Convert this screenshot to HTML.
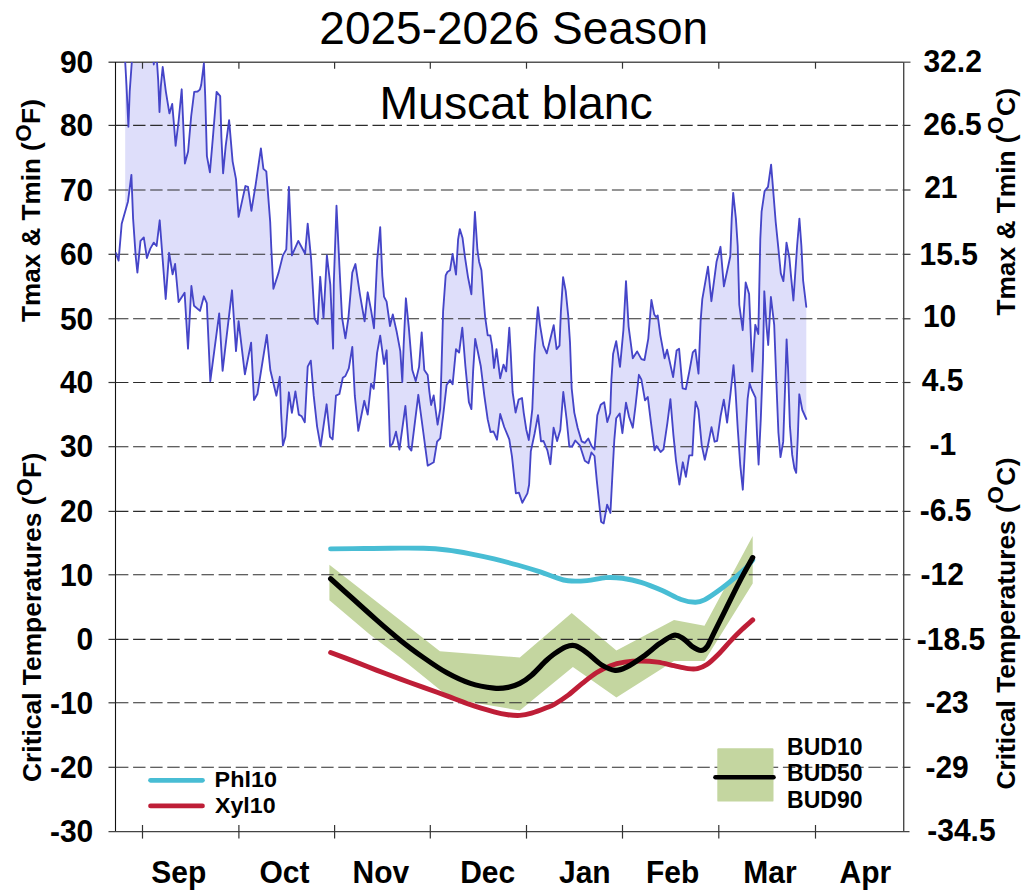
<!DOCTYPE html>
<html><head><meta charset="utf-8"><title>2025-2026 Season - Muscat blanc</title>
<style>
html,body{margin:0;padding:0;background:#fff;}
body{width:1024px;height:893px;position:relative;overflow:hidden;font-family:"Liberation Sans",sans-serif;}
</style></head><body>
<svg width="1024" height="893" viewBox="0 0 1024 893" style="position:absolute;left:0;top:0">
<defs><clipPath id="cp"><rect x="115.5" y="62.0" width="788.2" height="769.0"/></clipPath></defs>
<g clip-path="url(#cp)">
<polygon points="125.2,55.0 125.2,62.0 126.5,85.5 128.4,126.7 129.7,91.8 131.8,62.0 131.8,55.0 153.0,55.0 153.8,64.5 154.6,55.0 156.6,55.0 157.0,62.0 158.2,80.4 159.5,112.0 160.8,86.7 162.7,67.0 165.9,91.8 169.4,113.4 172.2,103.9 174.1,126.0 175.6,145.8 178.6,121.0 181.7,89.3 183.0,118.5 184.9,163.5 188.1,151.5 191.2,116.0 194.2,91.9 197.6,91.5 199.9,89.6 201.2,85.0 203.9,63.3 205.2,96.0 206.9,156.1 209.9,172.4 212.9,137.3 216.6,91.9 220.2,96.1 221.4,137.3 223.1,173.3 225.7,145.8 229.1,120.1 232.6,161.3 236.0,179.1 238.6,216.9 242.0,201.4 245.4,186.0 248.0,186.9 251.4,210.9 255.7,184.3 260.9,148.4 263.4,168.9 266.3,171.4 268.6,201.4 270.2,222.0 271.3,248.0 273.4,288.8 278.6,272.6 282.9,255.4 286.3,249.4 288.9,186.9 291.9,255.4 298.3,240.9 305.1,253.7 307.7,223.7 311.1,258.8 314.6,318.8 317.7,324.0 320.2,276.8 323.5,318.0 326.9,255.4 330.3,284.6 333.1,348.6 333.8,282.8 336.5,205.7 339.4,265.7 342.0,317.1 345.4,338.3 348.4,318.0 352.3,272.6 355.4,264.0 360.0,294.8 364.6,321.4 367.7,292.3 371.1,310.3 374.0,328.3 377.1,260.6 380.2,227.1 382.3,276.0 384.0,296.6 386.6,301.7 390.0,326.0 392.8,314.4 396.8,332.3 400.3,351.1 402.3,382.0 403.7,344.3 405.9,298.3 408.8,327.3 412.3,370.0 415.7,381.1 419.1,366.6 421.7,332.4 424.3,370.0 427.7,375.0 429.4,392.0 431.1,405.0 433.7,395.5 437.6,424.7 440.2,409.0 441.4,371.4 443.1,311.4 445.7,275.4 447.4,272.0 450.0,270.3 452.6,254.0 456.0,274.6 458.1,239.4 459.8,229.1 462.5,237.7 464.9,256.6 468.0,277.1 471.4,294.3 473.1,251.4 474.9,212.0 477.4,249.7 479.1,261.7 481.4,270.3 483.4,296.0 485.1,316.6 487.7,335.4 490.3,335.4 492.0,345.7 494.0,368.0 496.5,349.1 500.2,378.3 503.5,364.6 506.2,371.4 509.3,327.7 510.8,354.3 512.6,392.0 515.6,412.6 518.6,399.7 522.0,398.0 523.7,412.6 526.3,429.7 528.8,440.0 532.3,409.1 534.5,354.3 536.6,323.0 537.9,307.1 540.0,325.1 543.4,345.7 546.8,353.4 551.1,335.8 553.7,325.1 556.6,349.1 559.5,345.7 560.9,311.4 563.1,277.1 565.7,290.8 568.3,316.6 570.0,342.3 571.7,388.6 574.3,412.6 577.7,428.0 581.7,441.4 584.8,442.9 588.3,438.5 591.6,446.2 594.5,449.5 597.3,415.4 600.7,404.8 604.2,402.3 607.3,422.0 610.2,413.0 611.4,379.7 613.1,354.0 616.2,341.1 620.0,366.8 623.4,330.0 626.0,281.1 628.6,326.6 632.8,358.3 637.1,351.4 641.4,359.1 644.5,360.0 648.3,338.6 651.4,300.0 654.3,314.6 656.0,317.1 657.7,315.4 660.3,335.1 664.6,358.3 667.1,349.7 673.1,377.1 676.6,350.6 679.1,348.8 682.6,388.3 685.8,389.2 689.4,371.1 692.8,352.3 695.4,349.7 698.5,373.7 700.6,321.4 702.3,299.1 708.0,266.6 711.4,301.2 716.6,261.4 720.5,246.8 723.9,286.3 730.3,256.3 731.7,218.6 733.2,192.9 735.9,218.6 737.7,246.0 739.3,305.0 742.7,330.2 745.7,282.4 749.1,294.0 752.3,371.5 755.3,324.8 758.3,334.0 760.3,239.1 761.6,211.7 764.6,191.1 768.0,186.9 771.1,164.6 773.1,189.4 775.7,222.0 778.3,247.7 780.8,273.4 783.4,281.1 785.1,261.4 786.5,242.6 789.4,258.0 791.1,276.8 793.4,300.5 797.1,246.0 799.4,218.6 801.4,246.0 803.1,280.3 806.3,306.9 806.3,419.0 802.3,410.0 799.3,394.3 797.8,437.0 796.2,472.8 794.4,468.3 792.2,454.9 789.9,425.7 788.1,369.7 786.6,339.4 785.3,381.0 783.2,441.9 780.5,457.1 778.4,432.5 776.3,380.5 774.2,324.8 770.9,297.0 768.2,345.0 766.4,324.8 764.3,291.3 763.0,358.5 760.8,418.6 758.6,464.5 757.0,434.0 755.5,397.7 751.7,389.5 749.6,383.5 747.6,399.0 745.3,442.0 742.8,489.7 740.3,465.7 737.7,428.0 735.4,389.0 733.5,365.1 730.5,393.5 727.1,422.7 723.8,399.6 720.6,416.0 717.1,440.8 714.6,441.7 711.5,427.1 707.7,446.8 704.8,459.7 701.7,445.1 698.4,409.8 695.6,401.7 694.0,422.8 692.3,455.4 689.2,455.4 685.9,476.8 682.8,462.3 679.4,484.6 676.0,460.6 673.4,434.9 670.4,399.1 667.4,422.8 663.5,449.4 660.6,452.0 656.6,446.0 654.6,450.3 651.0,422.9 647.8,397.0 645.0,400.4 641.4,379.7 638.9,374.8 635.5,406.0 632.8,427.7 629.1,417.0 626.0,402.7 622.4,433.2 619.7,413.5 616.2,418.3 614.3,440.0 612.4,475.0 610.4,513.0 607.1,504.6 603.7,523.4 601.1,521.7 596.8,480.6 594.5,456.0 591.4,452.5 588.5,463.3 584.8,460.8 580.0,445.7 575.3,440.5 572.2,446.5 569.3,446.5 566.7,420.0 563.3,392.0 560.3,430.0 557.1,441.0 553.6,427.7 550.4,464.2 547.4,450.4 543.5,441.0 541.0,441.4 538.0,415.2 534.5,434.0 530.8,451.4 529.1,484.8 527.4,493.4 522.3,502.8 518.9,492.6 515.9,493.4 512.0,456.6 509.3,439.3 504.2,427.0 500.2,414.0 497.0,439.7 493.5,431.5 490.5,432.0 487.7,419.4 484.3,395.4 480.8,366.3 475.2,338.9 473.1,371.4 471.4,409.1 468.9,402.3 465.4,366.3 462.3,327.7 459.1,352.6 456.0,349.1 452.6,384.3 450.0,380.0 446.6,385.1 443.1,416.0 440.2,438.3 437.1,441.7 433.7,462.3 427.7,465.7 423.4,433.0 418.3,394.8 411.4,450.6 408.8,447.1 405.4,406.0 399.4,449.7 396.0,431.7 392.6,443.7 390.0,446.3 388.3,392.3 386.6,350.3 384.0,364.0 380.2,335.7 377.1,352.9 373.7,388.8 371.1,383.7 367.7,414.6 364.3,400.8 358.3,430.8 354.8,395.7 352.3,346.9 348.8,368.3 345.4,376.0 342.8,377.7 339.4,394.0 336.0,395.7 332.6,439.4 330.0,436.8 326.6,404.3 320.6,446.3 317.1,426.6 313.7,395.7 310.8,360.6 307.7,366.6 304.8,422.3 301.7,416.3 298.8,414.6 295.4,391.4 291.9,412.8 288.9,392.3 285.4,436.8 282.9,445.4 281.1,412.8 279.8,376.8 276.4,395.7 270.3,370.0 266.8,334.9 257.4,394.0 254.0,400.0 251.1,342.6 244.9,374.3 238.6,321.1 236.0,351.1 232.0,290.3 222.6,370.8 219.2,313.4 210.3,381.1 206.8,303.1 203.9,296.3 200.0,310.9 194.0,305.7 191.4,286.0 188.0,348.6 184.6,292.7 178.6,302.0 175.1,264.0 172.6,274.3 169.1,252.8 165.7,299.0 162.3,254.6 159.7,220.3 156.6,246.0 153.7,242.6 150.3,248.6 146.9,258.0 143.8,237.4 140.5,240.8 137.4,272.6 135.7,256.3 133.1,218.6 131.4,174.9 128.0,201.4 125.2,211.3" fill="#dedefa"/>
<polygon points="329.4,564.7 439.9,651.2 519.8,657.5 571.7,612.9 616.4,650.5 674.0,619.9 704.5,625.8 752.7,536.0 752.7,583.5 704.5,661.0 674.0,661.0 616.4,697.5 572.9,666.9 519.8,710.5 451.0,698.8 400.0,657.6 369.2,634.0 329.4,600.2" fill="#c4d6a0"/>
</g>
<line x1="116.0" y1="125.40" x2="903.7" y2="125.40" stroke="#2c2c2c" stroke-width="1.1" stroke-dasharray="12.4 4.7" stroke-dashoffset="0.0"/>
<line x1="116.0" y1="190.00" x2="903.7" y2="190.00" stroke="#2c2c2c" stroke-width="1.1" stroke-dasharray="12.4 4.7" stroke-dashoffset="0.0"/>
<line x1="116.0" y1="254.30" x2="903.7" y2="254.30" stroke="#2c2c2c" stroke-width="1.1" stroke-dasharray="12.4 4.7" stroke-dashoffset="0.0"/>
<line x1="116.0" y1="318.80" x2="903.7" y2="318.80" stroke="#2c2c2c" stroke-width="1.1" stroke-dasharray="12.4 4.7" stroke-dashoffset="0.0"/>
<line x1="116.0" y1="382.50" x2="903.7" y2="382.50" stroke="#2c2c2c" stroke-width="1.1" stroke-dasharray="12.4 4.7" stroke-dashoffset="0.0"/>
<line x1="116.0" y1="446.70" x2="903.7" y2="446.70" stroke="#2c2c2c" stroke-width="1.1" stroke-dasharray="12.4 4.7" stroke-dashoffset="0.0"/>
<line x1="116.0" y1="511.40" x2="903.7" y2="511.40" stroke="#2c2c2c" stroke-width="1.1" stroke-dasharray="12.4 4.7" stroke-dashoffset="0.0"/>
<line x1="116.0" y1="574.80" x2="903.7" y2="574.80" stroke="#2c2c2c" stroke-width="1.1" stroke-dasharray="12.4 4.7" stroke-dashoffset="0.0"/>
<line x1="116.0" y1="639.40" x2="903.7" y2="639.40" stroke="#2c2c2c" stroke-width="1.1" stroke-dasharray="12.4 4.7" stroke-dashoffset="0.0"/>
<line x1="116.0" y1="702.80" x2="903.7" y2="702.80" stroke="#2c2c2c" stroke-width="1.1" stroke-dasharray="12.4 4.7" stroke-dashoffset="0.0"/>
<line x1="116.0" y1="767.30" x2="903.7" y2="767.30" stroke="#2c2c2c" stroke-width="1.1" stroke-dasharray="12.4 4.7" stroke-dashoffset="0.0"/>
<line x1="108.5" y1="62.2" x2="903.7" y2="62.2" stroke="#555" stroke-width="1.4"/>
<line x1="108.5" y1="831.6" x2="909.5" y2="831.6" stroke="#444" stroke-width="1.3"/>
<line x1="115.5" y1="62.0" x2="115.5" y2="831.0" stroke="#111" stroke-width="1.1"/>
<line x1="903.7" y1="62.0" x2="903.7" y2="831.0" stroke="#4a4a4a" stroke-width="1.4"/>
<line x1="108.5" y1="125.40" x2="115.5" y2="125.40" stroke="#333" stroke-width="1.2"/>
<line x1="903.7" y1="125.40" x2="910.5" y2="125.40" stroke="#333" stroke-width="1.2"/>
<line x1="108.5" y1="190.00" x2="115.5" y2="190.00" stroke="#333" stroke-width="1.2"/>
<line x1="903.7" y1="190.00" x2="910.5" y2="190.00" stroke="#333" stroke-width="1.2"/>
<line x1="108.5" y1="254.30" x2="115.5" y2="254.30" stroke="#333" stroke-width="1.2"/>
<line x1="903.7" y1="254.30" x2="910.5" y2="254.30" stroke="#333" stroke-width="1.2"/>
<line x1="108.5" y1="318.80" x2="115.5" y2="318.80" stroke="#333" stroke-width="1.2"/>
<line x1="903.7" y1="318.80" x2="910.5" y2="318.80" stroke="#333" stroke-width="1.2"/>
<line x1="108.5" y1="382.50" x2="115.5" y2="382.50" stroke="#333" stroke-width="1.2"/>
<line x1="903.7" y1="382.50" x2="910.5" y2="382.50" stroke="#333" stroke-width="1.2"/>
<line x1="108.5" y1="446.70" x2="115.5" y2="446.70" stroke="#333" stroke-width="1.2"/>
<line x1="903.7" y1="446.70" x2="910.5" y2="446.70" stroke="#333" stroke-width="1.2"/>
<line x1="108.5" y1="511.40" x2="115.5" y2="511.40" stroke="#333" stroke-width="1.2"/>
<line x1="903.7" y1="511.40" x2="910.5" y2="511.40" stroke="#333" stroke-width="1.2"/>
<line x1="108.5" y1="574.80" x2="115.5" y2="574.80" stroke="#333" stroke-width="1.2"/>
<line x1="903.7" y1="574.80" x2="910.5" y2="574.80" stroke="#333" stroke-width="1.2"/>
<line x1="108.5" y1="639.40" x2="115.5" y2="639.40" stroke="#333" stroke-width="1.2"/>
<line x1="903.7" y1="639.40" x2="910.5" y2="639.40" stroke="#333" stroke-width="1.2"/>
<line x1="108.5" y1="702.80" x2="115.5" y2="702.80" stroke="#333" stroke-width="1.2"/>
<line x1="903.7" y1="702.80" x2="910.5" y2="702.80" stroke="#333" stroke-width="1.2"/>
<line x1="108.5" y1="767.30" x2="115.5" y2="767.30" stroke="#333" stroke-width="1.2"/>
<line x1="903.7" y1="767.30" x2="910.5" y2="767.30" stroke="#333" stroke-width="1.2"/>
<line x1="903.7" y1="62.20" x2="910.5" y2="62.20" stroke="#555" stroke-width="1.3"/>
<line x1="142.5" y1="62.0" x2="142.5" y2="68.7" stroke="#333" stroke-width="1.2"/>
<line x1="142.5" y1="825.0" x2="142.5" y2="838.6" stroke="#333" stroke-width="1.2"/>
<line x1="238.9" y1="62.0" x2="238.9" y2="68.7" stroke="#333" stroke-width="1.2"/>
<line x1="238.9" y1="825.0" x2="238.9" y2="838.6" stroke="#333" stroke-width="1.2"/>
<line x1="334.6" y1="62.0" x2="334.6" y2="68.7" stroke="#333" stroke-width="1.2"/>
<line x1="334.6" y1="825.0" x2="334.6" y2="838.6" stroke="#333" stroke-width="1.2"/>
<line x1="430.3" y1="62.0" x2="430.3" y2="68.7" stroke="#333" stroke-width="1.2"/>
<line x1="430.3" y1="825.0" x2="430.3" y2="838.6" stroke="#333" stroke-width="1.2"/>
<line x1="526.5" y1="62.0" x2="526.5" y2="68.7" stroke="#333" stroke-width="1.2"/>
<line x1="526.5" y1="825.0" x2="526.5" y2="838.6" stroke="#333" stroke-width="1.2"/>
<line x1="622.5" y1="62.0" x2="622.5" y2="68.7" stroke="#333" stroke-width="1.2"/>
<line x1="622.5" y1="825.0" x2="622.5" y2="838.6" stroke="#333" stroke-width="1.2"/>
<line x1="718.8" y1="62.0" x2="718.8" y2="68.7" stroke="#333" stroke-width="1.2"/>
<line x1="718.8" y1="825.0" x2="718.8" y2="838.6" stroke="#333" stroke-width="1.2"/>
<line x1="815.5" y1="62.0" x2="815.5" y2="68.7" stroke="#333" stroke-width="1.2"/>
<line x1="815.5" y1="825.0" x2="815.5" y2="838.6" stroke="#333" stroke-width="1.2"/>
<g clip-path="url(#cp)" fill="none" stroke-linejoin="round" stroke-linecap="round">
<polyline points="125.2,55.0 125.2,62.0 126.5,85.5 128.4,126.7 129.7,91.8 131.8,62.0 131.8,55.0 153.0,55.0 153.8,64.5 154.6,55.0 156.6,55.0 157.0,62.0 158.2,80.4 159.5,112.0 160.8,86.7 162.7,67.0 165.9,91.8 169.4,113.4 172.2,103.9 174.1,126.0 175.6,145.8 178.6,121.0 181.7,89.3 183.0,118.5 184.9,163.5 188.1,151.5 191.2,116.0 194.2,91.9 197.6,91.5 199.9,89.6 201.2,85.0 203.9,63.3 205.2,96.0 206.9,156.1 209.9,172.4 212.9,137.3 216.6,91.9 220.2,96.1 221.4,137.3 223.1,173.3 225.7,145.8 229.1,120.1 232.6,161.3 236.0,179.1 238.6,216.9 242.0,201.4 245.4,186.0 248.0,186.9 251.4,210.9 255.7,184.3 260.9,148.4 263.4,168.9 266.3,171.4 268.6,201.4 270.2,222.0 271.3,248.0 273.4,288.8 278.6,272.6 282.9,255.4 286.3,249.4 288.9,186.9 291.9,255.4 298.3,240.9 305.1,253.7 307.7,223.7 311.1,258.8 314.6,318.8 317.7,324.0 320.2,276.8 323.5,318.0 326.9,255.4 330.3,284.6 333.1,348.6 333.8,282.8 336.5,205.7 339.4,265.7 342.0,317.1 345.4,338.3 348.4,318.0 352.3,272.6 355.4,264.0 360.0,294.8 364.6,321.4 367.7,292.3 371.1,310.3 374.0,328.3 377.1,260.6 380.2,227.1 382.3,276.0 384.0,296.6 386.6,301.7 390.0,326.0 392.8,314.4 396.8,332.3 400.3,351.1 402.3,382.0 403.7,344.3 405.9,298.3 408.8,327.3 412.3,370.0 415.7,381.1 419.1,366.6 421.7,332.4 424.3,370.0 427.7,375.0 429.4,392.0 431.1,405.0 433.7,395.5 437.6,424.7 440.2,409.0 441.4,371.4 443.1,311.4 445.7,275.4 447.4,272.0 450.0,270.3 452.6,254.0 456.0,274.6 458.1,239.4 459.8,229.1 462.5,237.7 464.9,256.6 468.0,277.1 471.4,294.3 473.1,251.4 474.9,212.0 477.4,249.7 479.1,261.7 481.4,270.3 483.4,296.0 485.1,316.6 487.7,335.4 490.3,335.4 492.0,345.7 494.0,368.0 496.5,349.1 500.2,378.3 503.5,364.6 506.2,371.4 509.3,327.7 510.8,354.3 512.6,392.0 515.6,412.6 518.6,399.7 522.0,398.0 523.7,412.6 526.3,429.7 528.8,440.0 532.3,409.1 534.5,354.3 536.6,323.0 537.9,307.1 540.0,325.1 543.4,345.7 546.8,353.4 551.1,335.8 553.7,325.1 556.6,349.1 559.5,345.7 560.9,311.4 563.1,277.1 565.7,290.8 568.3,316.6 570.0,342.3 571.7,388.6 574.3,412.6 577.7,428.0 581.7,441.4 584.8,442.9 588.3,438.5 591.6,446.2 594.5,449.5 597.3,415.4 600.7,404.8 604.2,402.3 607.3,422.0 610.2,413.0 611.4,379.7 613.1,354.0 616.2,341.1 620.0,366.8 623.4,330.0 626.0,281.1 628.6,326.6 632.8,358.3 637.1,351.4 641.4,359.1 644.5,360.0 648.3,338.6 651.4,300.0 654.3,314.6 656.0,317.1 657.7,315.4 660.3,335.1 664.6,358.3 667.1,349.7 673.1,377.1 676.6,350.6 679.1,348.8 682.6,388.3 685.8,389.2 689.4,371.1 692.8,352.3 695.4,349.7 698.5,373.7 700.6,321.4 702.3,299.1 708.0,266.6 711.4,301.2 716.6,261.4 720.5,246.8 723.9,286.3 730.3,256.3 731.7,218.6 733.2,192.9 735.9,218.6 737.7,246.0 739.3,305.0 742.7,330.2 745.7,282.4 749.1,294.0 752.3,371.5 755.3,324.8 758.3,334.0 760.3,239.1 761.6,211.7 764.6,191.1 768.0,186.9 771.1,164.6 773.1,189.4 775.7,222.0 778.3,247.7 780.8,273.4 783.4,281.1 785.1,261.4 786.5,242.6 789.4,258.0 791.1,276.8 793.4,300.5 797.1,246.0 799.4,218.6 801.4,246.0 803.1,280.3 806.3,306.9" stroke="#4545c8" stroke-width="1.85"/>
<polyline points="115.7,252.8 118.6,260.6 121.7,223.7 128.0,201.4 131.4,174.9 133.1,218.6 135.7,256.3 137.4,272.6 140.5,240.8 143.8,237.4 146.9,258.0 150.3,248.6 153.7,242.6 156.6,246.0 159.7,220.3 162.3,254.6 165.7,299.0 169.1,252.8 172.6,274.3 175.1,264.0 178.6,302.0 184.6,292.7 188.0,348.6 191.4,286.0 194.0,305.7 200.0,310.9 203.9,296.3 206.8,303.1 210.3,381.1 219.2,313.4 222.6,370.8 232.0,290.3 236.0,351.1 238.6,321.1 244.9,374.3 251.1,342.6 254.0,400.0 257.4,394.0 266.8,334.9 270.3,370.0 276.4,395.7 279.8,376.8 281.1,412.8 282.9,445.4 285.4,436.8 288.9,392.3 291.9,412.8 295.4,391.4 298.8,414.6 301.7,416.3 304.8,422.3 307.7,366.6 310.8,360.6 313.7,395.7 317.1,426.6 320.6,446.3 326.6,404.3 330.0,436.8 332.6,439.4 336.0,395.7 339.4,394.0 342.8,377.7 345.4,376.0 348.8,368.3 352.3,346.9 354.8,395.7 358.3,430.8 364.3,400.8 367.7,414.6 371.1,383.7 373.7,388.8 377.1,352.9 380.2,335.7 384.0,364.0 386.6,350.3 388.3,392.3 390.0,446.3 392.6,443.7 396.0,431.7 399.4,449.7 405.4,406.0 408.8,447.1 411.4,450.6 418.3,394.8 423.4,433.0 427.7,465.7 433.7,462.3 437.1,441.7 440.2,438.3 443.1,416.0 446.6,385.1 450.0,380.0 452.6,384.3 456.0,349.1 459.1,352.6 462.3,327.7 465.4,366.3 468.9,402.3 471.4,409.1 473.1,371.4 475.2,338.9 480.8,366.3 484.3,395.4 487.7,419.4 490.5,432.0 493.5,431.5 497.0,439.7 500.2,414.0 504.2,427.0 509.3,439.3 512.0,456.6 515.9,493.4 518.9,492.6 522.3,502.8 527.4,493.4 529.1,484.8 530.8,451.4 534.5,434.0 538.0,415.2 541.0,441.4 543.5,441.0 547.4,450.4 550.4,464.2 553.6,427.7 557.1,441.0 560.3,430.0 563.3,392.0 566.7,420.0 569.3,446.5 572.2,446.5 575.3,440.5 580.0,445.7 584.8,460.8 588.5,463.3 591.4,452.5 594.5,456.0 596.8,480.6 601.1,521.7 603.7,523.4 607.1,504.6 610.4,513.0 612.4,475.0 614.3,440.0 616.2,418.3 619.7,413.5 622.4,433.2 626.0,402.7 629.1,417.0 632.8,427.7 635.5,406.0 638.9,374.8 641.4,379.7 645.0,400.4 647.8,397.0 651.0,422.9 654.6,450.3 656.6,446.0 660.6,452.0 663.5,449.4 667.4,422.8 670.4,399.1 673.4,434.9 676.0,460.6 679.4,484.6 682.8,462.3 685.9,476.8 689.2,455.4 692.3,455.4 694.0,422.8 695.6,401.7 698.4,409.8 701.7,445.1 704.8,459.7 707.7,446.8 711.5,427.1 714.6,441.7 717.1,440.8 720.6,416.0 723.8,399.6 727.1,422.7 730.5,393.5 733.5,365.1 735.4,389.0 737.7,428.0 740.3,465.7 742.8,489.7 745.3,442.0 747.6,399.0 749.6,383.5 751.7,389.5 755.5,397.7 757.0,434.0 758.6,464.5 760.8,418.6 763.0,358.5 764.3,291.3 766.4,324.8 768.2,345.0 770.9,297.0 774.2,324.8 776.3,380.5 778.4,432.5 780.5,457.1 783.2,441.9 785.3,381.0 786.6,339.4 788.1,369.7 789.9,425.7 792.2,454.9 794.4,468.3 796.2,472.8 797.8,437.0 799.3,394.3 802.3,410.0 806.3,419.0" stroke="#4545c8" stroke-width="1.85"/>
<path d="M330.6,548.9 C334.3,548.9 342.9,548.7 352.9,548.6 C362.9,548.5 378.8,548.2 390.5,548.2 C402.2,548.2 414.0,548.0 423.4,548.3 C432.8,548.6 439.1,549.1 446.9,550.0 C454.7,550.9 462.5,552.3 470.4,553.8 C478.2,555.3 486.1,557.0 494.0,558.9 C501.9,560.8 509.7,562.8 517.5,565.0 C525.3,567.2 534.9,570.2 541.0,572.2 C547.1,574.2 549.6,575.5 554.1,576.9 C558.6,578.3 562.7,580.2 568.2,580.8 C573.7,581.4 580.7,581.1 587.0,580.6 C593.3,580.1 599.9,578.0 605.8,577.6 C611.7,577.2 616.4,577.5 622.3,578.3 C628.2,579.1 634.5,580.3 641.1,582.3 C647.8,584.3 655.6,587.6 662.2,590.5 C668.9,593.4 675.5,597.5 681.0,599.5 C686.5,601.5 691.2,602.2 695.1,602.3 C699.0,602.4 700.6,601.9 704.5,599.9 C708.4,597.9 713.6,594.2 718.7,590.5 C723.8,586.8 730.4,581.5 735.1,577.6 C739.8,573.7 744.0,569.9 746.9,567.0 C749.8,564.1 751.7,561.2 752.7,560.0" stroke="#48bdd4" stroke-width="4.9"/>
<path d="M330.6,652.5 C334.3,653.9 345.3,658.0 352.9,660.9 C360.5,663.8 368.6,667.1 376.4,670.1 C384.2,673.1 392.1,676.0 399.9,678.9 C407.7,681.8 415.6,684.6 423.4,687.4 C431.2,690.2 439.1,693.0 446.9,695.9 C454.7,698.8 462.5,702.1 470.4,704.7 C478.2,707.4 487.7,710.1 494.0,711.8 C500.3,713.5 503.7,714.1 508.0,714.7 C512.3,715.3 515.9,715.6 519.8,715.4 C523.7,715.1 527.3,714.4 531.6,713.2 C535.9,712.0 542.0,709.6 545.7,708.1 C549.5,706.6 550.4,706.7 554.1,704.5 C557.9,702.3 563.5,698.6 568.2,695.1 C572.9,691.6 577.6,687.1 582.3,683.4 C587.0,679.7 591.7,675.8 596.4,672.8 C601.1,669.8 605.8,667.5 610.5,665.7 C615.2,663.9 619.5,663.0 624.6,662.2 C629.7,661.4 635.6,661.0 641.1,661.0 C646.6,661.0 652.0,661.4 657.5,662.2 C663.0,663.0 668.9,664.6 674.0,665.7 C679.1,666.8 684.2,668.1 688.1,668.6 C692.0,669.1 694.4,669.3 697.5,668.6 C700.6,667.9 703.4,667.0 706.9,664.6 C710.4,662.2 714.8,657.9 718.7,654.0 C722.6,650.1 726.5,645.2 730.4,641.1 C734.3,637.0 738.5,632.8 742.2,629.3 C745.9,625.8 751.0,621.5 752.7,619.9" stroke="#be1e37" stroke-width="4.9"/>
<path d="M330.6,578.7 C334.3,582.1 345.3,591.9 352.9,598.8 C360.5,605.7 368.6,613.0 376.4,619.9 C384.2,626.8 392.1,633.6 399.9,639.9 C407.7,646.2 415.6,652.0 423.4,657.5 C431.2,663.0 439.1,668.5 446.9,672.8 C454.7,677.1 462.5,680.8 470.4,683.4 C478.2,686.0 487.7,687.4 494.0,688.1 C500.3,688.8 503.7,688.2 508.0,687.4 C512.3,686.6 515.9,685.4 519.8,683.4 C523.7,681.4 527.3,678.9 531.6,675.2 C535.9,671.5 542.0,664.5 545.7,661.0 C549.5,657.5 550.7,656.4 554.1,654.0 C557.5,651.6 562.4,648.3 565.9,646.9 C569.4,645.5 571.8,644.8 575.3,645.8 C578.8,646.8 582.7,649.7 587.0,652.8 C591.3,655.9 596.4,661.7 601.1,664.6 C605.8,667.5 610.9,670.0 615.2,670.4 C619.5,670.8 622.3,669.2 627.0,666.9 C631.7,664.5 637.9,660.2 643.4,656.3 C648.9,652.4 654.8,646.9 659.9,643.4 C665.0,639.9 670.1,636.0 674.0,635.2 C677.9,634.4 680.3,636.8 683.4,638.7 C686.5,640.7 689.9,644.9 692.8,646.9 C695.7,648.9 698.6,650.5 701.0,650.5 C703.4,650.5 704.7,649.9 706.9,646.9 C709.1,643.9 710.9,639.1 714.0,632.8 C717.1,626.5 721.4,617.9 725.7,609.3 C730.0,600.7 735.3,589.7 739.8,581.1 C744.3,572.5 750.6,561.5 752.7,557.6" stroke="#000" stroke-width="5.2"/>
</g>
<rect x="717.3" y="748.2" width="56.2" height="53.4" rx="1.2" fill="#c4d6a0"/>
<line x1="150.5" y1="780.3" x2="202.5" y2="780.3" stroke="#48bdd4" stroke-width="4.7" stroke-linecap="round"/>
<line x1="150.5" y1="805.9" x2="202.5" y2="805.9" stroke="#be1e37" stroke-width="4.7" stroke-linecap="round"/>
<line x1="715.5" y1="777.2" x2="773.5" y2="777.2" stroke="#000" stroke-width="4.6" stroke-linecap="round"/>
<g font-family="Liberation Sans, sans-serif" fill="#000">
<text transform="translate(513.70,44.20) scale(1.000,1.020)" font-size="46.0" font-weight="normal" text-anchor="middle">2025-2026 Season</text>
<text transform="translate(516.10,118.80) scale(1.000,1.010)" font-size="46.4" font-weight="normal" text-anchor="middle">Muscat blanc</text>
<text transform="translate(93.30,72.90) scale(1.000,1.070)" font-size="30.0" font-weight="bold" text-anchor="end">90</text>
<text transform="translate(93.30,136.10) scale(1.000,1.070)" font-size="30.0" font-weight="bold" text-anchor="end">80</text>
<text transform="translate(93.30,200.70) scale(1.000,1.070)" font-size="30.0" font-weight="bold" text-anchor="end">70</text>
<text transform="translate(93.30,265.00) scale(1.000,1.070)" font-size="30.0" font-weight="bold" text-anchor="end">60</text>
<text transform="translate(93.30,329.50) scale(1.000,1.070)" font-size="30.0" font-weight="bold" text-anchor="end">50</text>
<text transform="translate(93.30,393.20) scale(1.000,1.070)" font-size="30.0" font-weight="bold" text-anchor="end">40</text>
<text transform="translate(93.30,457.40) scale(1.000,1.070)" font-size="30.0" font-weight="bold" text-anchor="end">30</text>
<text transform="translate(93.30,522.10) scale(1.000,1.070)" font-size="30.0" font-weight="bold" text-anchor="end">20</text>
<text transform="translate(93.30,585.50) scale(1.000,1.070)" font-size="30.0" font-weight="bold" text-anchor="end">10</text>
<text transform="translate(93.30,650.10) scale(1.000,1.070)" font-size="30.0" font-weight="bold" text-anchor="end">0</text>
<text transform="translate(93.30,713.50) scale(1.000,1.070)" font-size="30.0" font-weight="bold" text-anchor="end">-10</text>
<text transform="translate(93.30,778.00) scale(1.000,1.070)" font-size="30.0" font-weight="bold" text-anchor="end">-20</text>
<text transform="translate(93.30,842.00) scale(1.000,1.070)" font-size="30.0" font-weight="bold" text-anchor="end">-30</text>
<text transform="translate(923.45,71.60) scale(1.000,1.070)" font-size="30.0" font-weight="bold" text-anchor="start">32.2</text>
<text transform="translate(923.35,134.80) scale(1.000,1.070)" font-size="30.0" font-weight="bold" text-anchor="start">26.5</text>
<text transform="translate(924.20,197.60) scale(1.000,1.070)" font-size="30.0" font-weight="bold" text-anchor="start">21</text>
<text transform="translate(919.50,264.80) scale(1.000,1.070)" font-size="30.0" font-weight="bold" text-anchor="start">15.5</text>
<text transform="translate(922.90,326.80) scale(1.000,1.070)" font-size="30.0" font-weight="bold" text-anchor="start">10</text>
<text transform="translate(921.70,390.80) scale(1.000,1.070)" font-size="30.0" font-weight="bold" text-anchor="start">4.5</text>
<text transform="translate(929.55,455.40) scale(1.000,1.070)" font-size="30.0" font-weight="bold" text-anchor="start">-1</text>
<text transform="translate(919.65,521.40) scale(1.000,1.070)" font-size="30.0" font-weight="bold" text-anchor="start">-6.5</text>
<text transform="translate(920.55,585.40) scale(1.000,1.070)" font-size="30.0" font-weight="bold" text-anchor="start">-12</text>
<text transform="translate(916.75,649.80) scale(1.000,1.070)" font-size="30.0" font-weight="bold" text-anchor="start">-18.5</text>
<text transform="translate(925.40,713.00) scale(1.000,1.070)" font-size="30.0" font-weight="bold" text-anchor="start">-23</text>
<text transform="translate(925.40,777.60) scale(1.000,1.070)" font-size="30.0" font-weight="bold" text-anchor="start">-29</text>
<text transform="translate(927.25,840.60) scale(1.000,1.070)" font-size="30.0" font-weight="bold" text-anchor="start">-34.5</text>
<text transform="translate(178.70,883.00) scale(1.000,1.070)" font-size="30.0" font-weight="bold" text-anchor="middle">Sep</text>
<text transform="translate(284.50,883.00) scale(1.000,1.070)" font-size="30.0" font-weight="bold" text-anchor="middle">Oct</text>
<text transform="translate(380.80,883.00) scale(1.000,1.070)" font-size="30.0" font-weight="bold" text-anchor="middle">Nov</text>
<text transform="translate(487.70,883.00) scale(1.000,1.070)" font-size="30.0" font-weight="bold" text-anchor="middle">Dec</text>
<text transform="translate(584.80,883.00) scale(1.000,1.070)" font-size="30.0" font-weight="bold" text-anchor="middle">Jan</text>
<text transform="translate(672.70,883.00) scale(1.000,1.070)" font-size="30.0" font-weight="bold" text-anchor="middle">Feb</text>
<text transform="translate(770.00,883.00) scale(1.000,1.070)" font-size="30.0" font-weight="bold" text-anchor="middle">Mar</text>
<text transform="translate(865.30,883.00) scale(1.000,1.070)" font-size="30.0" font-weight="bold" text-anchor="middle">Apr</text>
<text transform="translate(214.60,787.00) scale(1.000,0.980)" font-size="23.4" font-weight="bold" text-anchor="start">Phl10</text>
<text transform="translate(215.00,813.40) scale(1.000,0.980)" font-size="23.2" font-weight="bold" text-anchor="start">Xyl10</text>
<text transform="translate(787.10,754.60) scale(1.000,1.000)" font-size="23.0" font-weight="bold" text-anchor="start">BUD10</text>
<text transform="translate(787.10,781.10) scale(1.000,1.000)" font-size="23.0" font-weight="bold" text-anchor="start">BUD50</text>
<text transform="translate(787.10,807.50) scale(1.000,1.000)" font-size="23.0" font-weight="bold" text-anchor="start">BUD90</text>
<text transform="translate(40.4,322.0) rotate(-90)" font-size="26.1" font-weight="bold">Tmax &amp; Tmin (<tspan font-size="22.4" dy="-9.3" dx="0.4">O</tspan><tspan dy="9.3" dx="0.4">F</tspan><tspan dx="0.4">)</tspan></text>
<text transform="translate(40.9,782.0) rotate(-90)" font-size="26.4" font-weight="bold">Critical Temperatures (<tspan font-size="22.7" dy="-9.3" dx="0.4">O</tspan><tspan dy="9.3" dx="0.4">F</tspan><tspan dx="0.4">)</tspan></text>
<text transform="translate(1014.6,315.6) rotate(-90)" font-size="26.3" font-weight="bold">Tmax &amp; Tmin (<tspan font-size="22.6" dy="-11.8" dx="0.4">O</tspan><tspan dy="11.8" dx="0.4">C</tspan><tspan dx="0.4">)</tspan></text>
<text transform="translate(1014.6,789.6) rotate(-90)" font-size="26.4" font-weight="bold">Critical Temperatures (<tspan font-size="22.7" dy="-11.8" dx="0.4">O</tspan><tspan dy="11.8" dx="0.4">C</tspan><tspan dx="0.4">)</tspan></text>
</g>
</svg>
</body></html>
